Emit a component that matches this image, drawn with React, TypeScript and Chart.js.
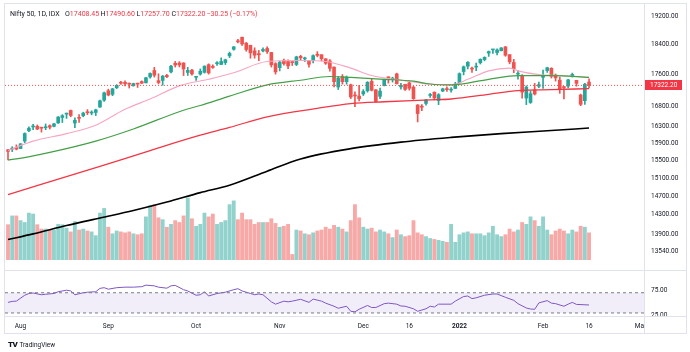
import React, { useEffect, useRef } from "react";
import { Chart, registerables } from "chart.js";
Chart.register(...registerables);

// ---------- data (Nifty 50, daily) ----------
const dates = [
  "2021-07-28","2021-07-29","2021-07-30",
  "2021-08-02","2021-08-03","2021-08-04","2021-08-05","2021-08-06","2021-08-09","2021-08-10","2021-08-11","2021-08-12","2021-08-13",
  "2021-08-16","2021-08-17","2021-08-18","2021-08-20","2021-08-23","2021-08-24","2021-08-25","2021-08-26","2021-08-27","2021-08-30","2021-08-31",
  "2021-09-01","2021-09-02","2021-09-03","2021-09-06","2021-09-07","2021-09-08","2021-09-09","2021-09-13","2021-09-14","2021-09-15","2021-09-16","2021-09-17",
  "2021-09-20","2021-09-21","2021-09-22","2021-09-23","2021-09-24","2021-09-27","2021-09-28","2021-09-29","2021-09-30",
  "2021-10-01","2021-10-04","2021-10-05","2021-10-06","2021-10-07","2021-10-08","2021-10-11","2021-10-12","2021-10-13","2021-10-14",
  "2021-10-18","2021-10-19","2021-10-20","2021-10-21","2021-10-22","2021-10-25","2021-10-26","2021-10-27","2021-10-28","2021-10-29",
  "2021-11-01","2021-11-02","2021-11-03","2021-11-04","2021-11-08","2021-11-09","2021-11-10","2021-11-11","2021-11-12","2021-11-15","2021-11-16","2021-11-17","2021-11-18",
  "2021-11-22","2021-11-23","2021-11-24","2021-11-25","2021-11-26","2021-11-29","2021-11-30",
  "2021-12-01","2021-12-02","2021-12-03","2021-12-06","2021-12-07","2021-12-08","2021-12-09","2021-12-10","2021-12-13","2021-12-14","2021-12-15","2021-12-16","2021-12-17",
  "2021-12-20","2021-12-21","2021-12-22","2021-12-23","2021-12-24","2021-12-27","2021-12-28","2021-12-29","2021-12-30","2021-12-31",
  "2022-01-03","2022-01-04","2022-01-05","2022-01-06","2022-01-07","2022-01-10","2022-01-11","2022-01-12","2022-01-13","2022-01-14",
  "2022-01-17","2022-01-18","2022-01-19","2022-01-20","2022-01-21","2022-01-24","2022-01-25","2022-01-27","2022-01-28","2022-01-31",
  "2022-02-01","2022-02-02","2022-02-03","2022-02-04","2022-02-07","2022-02-08","2022-02-09","2022-02-10","2022-02-11","2022-02-14","2022-02-15","2022-02-16",
];

const opens = [
  15746,15762,15800,15775,15951,16196,16288,16304,16281,16269,
  16319,16303,16385,16518,16600,16691,16383,16500,16561,16654,
  16627,16642,16775,16947,17186,17095,17262,17399,17401,17375,
  17312,17363,17420,17387,17540,17709,17443,17450,17580,17670,
  17897,17906,17907,17658,17718,17531,17615,17661,17861,17810,
  17887,17867,17916,18097,18272,18500,18602,18440,18382,18230,
  18155,18230,18295,18187,17890,17784,17970,17947,17936,17867,
  18084,18015,17967,17977,18141,18127,18018,17960,17796,17281,
  17550,17417,17338,17055,17051,17104,17184,17425,17209,17044,
  17315,17524,17476,17619,17283,17351,17387,17277,16825,16774,
  16865,17066,17149,16937,17178,17221,17201,17244,17387,17681,
  17821,17769,17797,17913,17998,18170,18257,18185,18235,18337,
  18129,17921,17613,17575,17001,16889,17209,17301,17529,17706,
  17767,17590,17456,17279,17304,17553,17451,17077,16934,17408.45,
];
const highs = [
  15758,15817,15862,15893,16147,16290,16350,16337,16282,16360,
  16339,16376,16543,16589,16628,16702,16509,16592,16647,16712,
  16683,16722,16951,17153,17226,17246,17341,17429,17437,17384,
  17379,17378,17439,17533,17644,17792,17622,17578,17610,17843,
  17947,17943,17913,17792,17742,17557,17750,17833,17884,17857,
  17942,18042,18008,18198,18350,18543,18604,18458,18384,18314,
  18242,18310,18342,18190,17915,17954,18012,17988,17947,18087,
  18112,18062,17968,18123,18210,18132,18022,17994,17805,17553,
  17601,17564,17355,17160,17324,17214,17420,17489,17216,17251,
  17484,17543,17534,17639,17376,17351,17440,17298,16840,16837,
  16971,17118,17155,17112,17250,17285,17264,17400,17646,17827,
  17944,17797,17905,18017,18071,18227,18272,18287,18321,18351,
  18129,18003,17707,17599,17310,17182,17373,17410,17722,17794,
  17781,17617,17536,17294,17477,17640,17454,17100,17376,17490.6,
];
const lows = [
  15513,15705,15744,15774,15914,16177,16221,16223,16164,16221,
  16238,16286,16376,16395,16495,16535,16270,16395,16535,16589,
  16582,16565,16764,16916,17056,17060,17240,17345,17308,17254,
  17302,17269,17368,17386,17510,17537,17361,17326,17519,17646,
  17799,17802,17576,17578,17585,17452,17587,17640,17613,17763,
  17840,17865,17865,18050,18248,18445,18377,18220,18033,18034,
  17969,18199,18162,17799,17613,17697,17847,17757,17839,17837,
  17984,17946,17798,17905,18071,17959,17869,17688,17281,17216,
  17354,17351,16986,16782,16931,17064,17150,17180,16891,16987,
  17308,17379,17406,17355,17225,17192,17200,16966,16410,16688,
  16819,17015,16954,16834,17161,17165,17146,17238,17384,17593,
  17750,17655,17704,17879,17964,18081,18163,18120,18228,18085,
  17884,17649,17485,16997,16836,16866,17077,17264,17245,17658,
  17511,17433,17119,16980,17255,17536,17302,16809,16839,17257.7,
];
const closes = [
  15709,15778,15763,15885,16130,16258,16295,16238,16258,16280,
  16282,16364,16529,16563,16614,16568,16450,16496,16625,16634,
  16636,16705,16931,17132,17076,17234,17324,17377,17362,17353,
  17369,17355,17380,17519,17629,17585,17396,17562,17546,17823,
  17853,17855,17748,17711,17618,17532,17691,17822,17646,17790,
  17895,17946,17992,18162,18339,18477,18419,18267,18178,18115,
  18125,18268,18211,17857,17672,17930,17889,17829,17916,18069,
  18044,18017,17873,18102,18109,18018,17899,17765,17417,17503,
  17416,17536,17026,17054,16983,17167,17401,17197,16913,17176,
  17469,17517,17511,17368,17324,17221,17248,16985,16614,16771,
  16955,17073,17004,17086,17233,17214,17204,17354,17625,17805,
  17925,17746,17812,18003,18056,18212,18258,18256,18309,18113,
  17938,17757,17617,17150,17278,17110,17102,17340,17576,17780,
  17560,17516,17214,17266,17464,17606,17374,16843,17352.45,17322.2,
];
// volume, millions
const volumes = [
  226,282,282,252,240,300,294,226,198,198,
  192,192,228,226,204,180,246,192,198,186,
  180,156,300,330,210,168,186,180,174,180,
  168,162,168,276,348,354,270,258,210,228,
  252,240,282,396,264,216,228,300,276,294,
  228,240,252,354,378,258,300,258,258,228,
  240,240,240,264,234,210,216,228,36,192,
  186,168,162,174,186,192,210,198,222,210,
  198,180,252,354,270,210,198,204,180,192,
  180,168,144,192,162,150,156,252,174,162,
  150,138,132,126,120,114,228,114,162,174,
  180,168,168,168,156,174,216,162,150,162,
  198,180,192,240,228,276,252,216,276,192,
  162,186,198,186,168,192,180,216,210,174,
];

// moving averages (bar index, value)
const ma20X = [0,6,14,21,28,34,41,48,54,62,70,76,82,87,94,101,106,110,115,120,122,127,132,139];
const ma20Y = [15729,15950,16128,16330,16720,16976,17310,17479,17649,17946,17971,17946,17771,17576,17455,17357,17334,17479,17699,17771,17699,17600,17576,17528];
const ma50X = [0,2,10,21,30,42,46,53,62,70,77,82,90,97,101,106,115,122,130,139];
const ma50Y = [15514,15535,15686,15950,16239,16697,16813,17048,17334,17455,17552,17528,17479,17430,17357,17334,17479,17576,17576,17528];
const ma100X = [0,22,34,46,53,62,74,82,90,101,106,115,122,130,139];
const ma100Y = [14737,15364,15729,16090,16275,16535,16743,16860,16907,16953,16976,17095,17190,17214,17238];
const ma200X = [0,6,14,22,30,38,46,53,62,70,82,94,106,118,129,139];
const ma200Y = [13787,13903,14075,14233,14392,14573,14779,14943,15256,15535,15773,15927,16038,16128,16195,16262];

// RSI (bar index, value)
const rsiX = [0,1,2,4,5,6,8,9,11,12,14,15,16,18,19,21,22,23,24,26,28,30,32,33,35,36,38,39,40,42,43,45,46,47,48,50,52,54,55,56,58,59,60,61,63,64,66,67,68,70,72,73,75,76,78,79,81,82,83,84,86,87,88,90,91,93,94,95,97,98,100,101,102,103,106,107,109,110,111,112,114,116,117,119,121,122,124,125,126,127,129,130,131,133,134,135,136,139];
const rsiY = [50.9,52.9,53.4,65,68.5,69.5,66,67,68.5,72,75,73.5,66,70,71,72,78.6,80,77,80,81,81,82,85,83.6,81,79,83.6,84.6,76,73.5,65,66,72,63.5,68.5,71,76,78,73.5,68.5,66,67.5,66,52,47.4,53.4,52,53.4,57,51,57.4,53.4,49.4,43.3,39.3,43.3,33.3,32.3,37.3,44.8,40.8,40.8,48.4,49.4,47.4,43.8,43.3,38.3,33.3,38.3,43.3,41.8,47.4,47.4,53.4,62.5,63.5,58.4,60,65,67.5,67.5,61,55,48.4,39.8,37.8,37.3,49.9,54.4,49.4,48.4,43.3,47.4,50.9,46.9,45.8];

const priceTicks = [13540, 13900, 14300, 14700, 15100, 15500, 15900, 16300, 16800, 17600, 18400, 19200];
const rsiTicks = [25, 75];
const rsiBands = [70, 30];
const timeTickIdx = [3, 24, 45, 65, 85, 96, 108, 128, 139, 151.3];
const timeTickLabels = ["Aug", "Sep", "Oct", "Nov", "Dec", "16", "2022", "Feb", "16", "Mar"];

// ---------- layout / style constants ----------
const X_MIN = -0.72;
const X_MAX = 152.15;
const PRICE_MIN = 13373.5;
const PRICE_MAX = 19342;
const VOL_MAX = 1590;
const RSI_MIN = 24;
const RSI_MAX = 93.4;
const UP = "#26a69a";
const DOWN = "#ef5350";
const TXT = "#131722";
const FONT = 'Roboto, "Liberation Sans", Arial, sans-serif';
const FRAME = "#e0e3eb";

function pts(xs: number[], ys: number[]) {
  return xs.map((x, k) => ({ x, y: ys[k] }));
}

export default function App() {
  const mainRef = useRef<HTMLCanvasElement>(null);
  const rsiRef = useRef<HTMLCanvasElement>(null);

  useEffect(() => {
    document.body.style.margin = "0";
    const n = closes.length;
    const last = n - 1;
    const ids = closes.map((_, i) => i);
    const up = (i: number) => closes[i] >= opens[i];

    const priceLabel = {
      id: "priceLabel",
      afterDraw(chart: any) {
        const { ctx, chartArea } = chart;
        const y = chart.scales.y.getPixelForValue(closes[last]);
        ctx.save();
        ctx.fillStyle = "#f23645";
        ctx.fillRect(chartArea.right + 1, Math.round(y) - 5, 37, 10);
        ctx.fillStyle = "#ffffff";
        ctx.font = `6.5px ${FONT}`;
        ctx.textBaseline = "middle";
        ctx.textAlign = "left";
        ctx.fillText(closes[last].toFixed(2), chartArea.right + 6, Math.round(y) + 0.5);
        ctx.restore();
      },
    };

    const lineDs = (xs: number[], ys: number[], color: string, w: number) => ({
      type: "line",
      yAxisID: "y",
      data: pts(xs, ys),
      borderColor: color,
      borderWidth: w,
      pointRadius: 0,
      cubicInterpolationMode: "monotone",
      order: 1,
    });

    const main = new Chart(mainRef.current as HTMLCanvasElement, {
      type: "bar",
      data: {
        datasets: [
          lineDs(ma200X, ma200Y, "#000000", 1.6),
          lineDs(ma100X, ma100Y, "#f23645", 1.3),
          lineDs(ma50X, ma50Y, "#43a047", 1.2),
          lineDs(ma20X, ma20Y, "#f8a5c2", 1.1),
          {
            type: "line",
            yAxisID: "y",
            data: [
              { x: X_MIN, y: closes[last] },
              { x: X_MAX, y: closes[last] },
            ],
            borderColor: DOWN,
            borderWidth: 1,
            borderDash: [1, 2],
            pointRadius: 0,
            order: 0,
          },
          {
            type: "bar",
            yAxisID: "y",
            data: ids.map((i) => ({ x: i, y: [lows[i], highs[i]] })),
            backgroundColor: ids.map((i) => (up(i) ? UP : DOWN)),
            barThickness: 1,
            grouped: false,
            order: 3,
          },
          {
            type: "bar",
            yAxisID: "y",
            data: ids.map((i) => ({ x: i, y: [Math.min(opens[i], closes[i]), Math.max(opens[i], closes[i])] })),
            backgroundColor: ids.map((i) => (up(i) ? UP : DOWN)),
            barThickness: 3,
            minBarLength: 1,
            grouped: false,
            order: 2,
          },
          {
            type: "bar",
            yAxisID: "vol",
            data: ids.map((i) => ({ x: i, y: volumes[i] })),
            backgroundColor: ids.map((i) => (up(i) ? "rgba(38,166,154,0.5)" : "rgba(239,83,80,0.5)")),
            barThickness: 3.2,
            grouped: false,
            order: 10,
          },
        ] as any,
      },
      options: {
        responsive: false,
        animation: false,
        events: [],
        layout: { padding: { left: 5, right: 4, top: 4, bottom: 1 } },
        plugins: { legend: { display: false }, tooltip: { enabled: false } },
        scales: {
          x: { type: "linear", min: X_MIN, max: X_MAX, display: false, offset: false },
          y: {
            type: "logarithmic",
            position: "right",
            min: PRICE_MIN,
            max: PRICE_MAX,
            afterBuildTicks: (s: any) => {
              s.ticks = priceTicks.map((v) => ({ value: v }));
            },
            afterFit: (s: any) => {
              s.width = 42;
            },
            grid: { display: false, drawTicks: false },
            border: { display: false },
            ticks: {
              padding: 7,
              color: TXT,
              font: { family: FONT, size: 6.5 },
              callback: (v: any) => Number(v).toFixed(2),
            },
          },
          vol: { type: "linear", min: 0, max: VOL_MAX, display: false },
        },
      } as any,
      plugins: [priceLabel],
    });

    const coverRight = {
      id: "coverRight",
      afterDraw(chart: any) {
        const { ctx, chartArea } = chart;
        ctx.save();
        ctx.fillStyle = "#ffffff";
        ctx.fillRect(chartArea.right + 1, chartArea.bottom + 1, 60, 30);
        ctx.restore();
      },
    };

    const rsi = new Chart(rsiRef.current as HTMLCanvasElement, {
      type: "line",
      data: {
        datasets: [
          {
            data: [
              { x: X_MIN, y: rsiBands[0] },
              { x: X_MAX, y: rsiBands[0] },
            ],
            borderColor: "#787b86",
            borderWidth: 1,
            borderDash: [3, 3],
            pointRadius: 0,
            fill: false,
          },
          {
            data: [
              { x: X_MIN, y: rsiBands[1] },
              { x: X_MAX, y: rsiBands[1] },
            ],
            borderColor: "#787b86",
            borderWidth: 1,
            borderDash: [3, 3],
            pointRadius: 0,
            fill: "-1",
            backgroundColor: "rgba(126,87,194,0.1)",
          },
          {
            data: pts(rsiX, rsiY),
            borderColor: "#7e57c2",
            borderWidth: 1,
            pointRadius: 0,
            fill: false,
            tension: 0,
          },
        ],
      },
      options: {
        responsive: false,
        animation: false,
        events: [],
        layout: { padding: { left: 5, right: 4, top: 0, bottom: 3 } },
        plugins: { legend: { display: false }, tooltip: { enabled: false } },
        scales: {
          x: {
            type: "linear",
            min: X_MIN,
            max: X_MAX,
            offset: false,
            afterBuildTicks: (s: any) => {
              s.ticks = timeTickIdx.map((v) => ({ value: v }));
            },
            afterFit: (s: any) => {
              s.height = 17;
            },
            grid: { display: false, drawTicks: false },
            border: { display: false },
            ticks: {
              autoSkip: false,
              maxRotation: 0,
              padding: 6,
              color: TXT,
              font: (c: any) => ({
                family: FONT,
                size: 6.5,
                weight: c.tick && c.tick.label === "2022" ? "bold" : "normal",
              }),
              callback: (v: any) => {
                const k = timeTickIdx.indexOf(Number(v));
                return k >= 0 ? timeTickLabels[k] : "";
              },
            },
          },
          y: {
            type: "linear",
            position: "right",
            min: RSI_MIN,
            max: RSI_MAX,
            afterBuildTicks: (s: any) => {
              s.ticks = rsiTicks.map((v) => ({ value: v }));
            },
            afterFit: (s: any) => {
              s.width = 42;
            },
            grid: { display: false, drawTicks: false },
            border: { display: false },
            ticks: {
              padding: 7,
              color: TXT,
              font: { family: FONT, size: 6.5 },
              callback: (v: any) => Number(v).toFixed(2),
            },
          },
        },
      } as any,
      plugins: [coverRight],
    });

    return () => {
      main.destroy();
      rsi.destroy();
    };
  }, []);

  const last = closes.length - 1;
  const chg = closes[last] - closes[last - 1];
  const pct = (chg / closes[last - 1]) * 100;
  const fmt = (v: number) => (v < 0 ? "\u2212" : "+") + Math.abs(v).toFixed(2);
  const red = "#f23645";
  const hdr: React.CSSProperties = {
    position: "absolute",
    top: 10,
    fontFamily: FONT,
    fontSize: 7,
    lineHeight: "8px",
    whiteSpace: "nowrap",
    color: TXT,
  };
  const line = (s: React.CSSProperties): React.CSSProperties => ({ position: "absolute", background: FRAME, ...s });

  return (
    <div style={{ position: "relative", width: 690, height: 352, background: "#fff", overflow: "hidden" }}>
      <canvas ref={mainRef} width={690} height={271} style={{ position: "absolute", left: 0, top: 0 }} />
      <canvas ref={rsiRef} width={690} height={66} style={{ position: "absolute", left: 0, top: 270 }} />
      {/* frame */}
      <div style={line({ left: 4, top: 3, width: 683, height: 1 })} />
      <div style={line({ left: 4, top: 333, width: 683, height: 1 })} />
      <div style={line({ left: 4, top: 3, width: 1, height: 331 })} />
      <div style={line({ left: 686, top: 3, width: 1, height: 331 })} />
      <div style={line({ left: 644, top: 3, width: 1, height: 331 })} />
      <div style={line({ left: 4, top: 270, width: 683, height: 1 })} />
      <div style={line({ left: 4, top: 316, width: 683, height: 1 })} />
      {/* legend */}
      <div style={{ ...hdr, left: 10 }}>Nifty 50, 1D, IDX</div>
      <div style={{ ...hdr, left: 65 }}>
        O<span style={{ color: red }}>{opens[last].toFixed(2)}</span>
      </div>
      <div style={{ ...hdr, left: 100.5 }}>
        H<span style={{ color: red }}>{highs[last].toFixed(2)}</span>
      </div>
      <div style={{ ...hdr, left: 136.5 }}>
        L<span style={{ color: red }}>{lows[last].toFixed(2)}</span>
      </div>
      <div style={{ ...hdr, left: 171.5 }}>
        C<span style={{ color: red }}>{closes[last].toFixed(2)}</span>
      </div>
      <div style={{ ...hdr, left: 206.5, color: red }}>
        {fmt(chg)} ({fmt(pct)}%)
      </div>
      {/* logo */}
      <div
        style={{
          position: "absolute",
          left: 8,
          top: 337,
          fontFamily: FONT,
          color: TXT,
          whiteSpace: "nowrap",
          lineHeight: "9px",
        }}
      >
        <span style={{ fontSize: 8, fontWeight: 900, letterSpacing: -0.5 }}>TV</span>
        <span style={{ fontSize: 6.5, marginLeft: 2 }}>TradingView</span>
      </div>
    </div>
  );
}
